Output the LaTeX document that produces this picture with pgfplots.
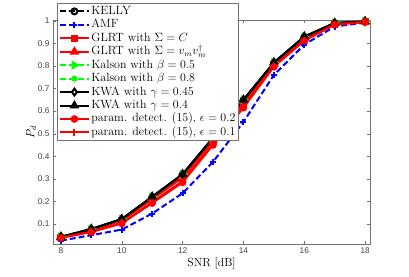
\documentclass[border=0pt]{standalone}
\usepackage{fontspec}
\usepackage{pgfplots}
\pgfplotsset{compat=1.18}
\newfontfamily\ticksfont{Liberation Sans}
\definecolor{mred}{rgb}{1,0,0}
\definecolor{mblue}{rgb}{0,0,1}
\definecolor{mgreen}{rgb}{0,1,0}
\begin{document}
\begin{tikzpicture}
\begin{axis}[
  scale only axis,
  width=317bp, height=224bp,
  xmin=7.74, xmax=18.16, ymin=0.011, ymax=1.004,
  xtick={8,10,...,18},
  ytick={0.1,0.2,0.3,0.4,0.5,0.6,0.7,0.8,0.9,1},
  yticklabels={0.1,0.2,0.3,0.4,0.5,0.6,0.7,0.8,0.9,1},
  /pgf/number format/assume math mode=true,
  tick label style={font=\ticksfont\fontsize{8.3}{10}\selectfont, black!75},
  tick align=inside,
  major tick length=3bp,
  axis line style={black!55},
  tick style={black!55},
  xlabel={SNR [dB]},
  ylabel={$P_d$},
  label style={font=\fontsize{11.8}{14}\selectfont},
  xlabel style={yshift=3bp},
  ylabel style={yshift=-5bp},
  legend cell align=left,
  legend style={at={(0.0126,1.076)}, anchor=north west, draw=black!55, line width=0.4pt,
    font=\fontsize{12}{13.6}\selectfont, row sep=0pt, inner sep=1.5pt,
    nodes={text height=8.5pt, text depth=2.6pt, inner sep=1.2pt}},
  legend image code/.code={\draw[mark repeat=2,mark phase=2,#1] plot coordinates {(0cm,0cm)(0.52cm,0cm)(1.04cm,0cm)};},
  every axis plot/.append style={line width=2pt, mark size=3pt},
]
% KELLY
\addplot[black, dashed, dash pattern=on 6pt off 3pt, mark=o, mark options={solid, fill=white}] coordinates {
(8,0.042)(9,0.076)(10,0.120)(11,0.218)(12,0.318)(13,0.480)(14,0.648)(15,0.813)(16,0.928)(17,0.990)(18,0.997)};
% AMF
\addplot[mblue, dashed, dash pattern=on 6pt off 3pt, mark=+, mark options={solid}] coordinates {
(8,0.026)(9,0.050)(10,0.075)(11,0.146)(12,0.236)(13,0.375)(14,0.552)(15,0.760)(16,0.895)(17,0.975)(18,0.993)};
% GLRT C
\addplot[mred, mark=square*, mark size=2.6pt, mark options={solid}] coordinates {
(8,0.040)(9,0.072)(10,0.115)(11,0.210)(12,0.305)(13,0.468)(14,0.635)(15,0.805)(16,0.920)(17,0.987)(18,0.996)};
% GLRT vv
\addplot[mred, mark=triangle*, mark size=3.6pt, mark options={solid}] coordinates {
(8,0.041)(9,0.074)(10,0.118)(11,0.214)(12,0.312)(13,0.474)(14,0.642)(15,0.809)(16,0.925)(17,0.989)(18,0.997)};
% Kalson 0.5
\addplot[mgreen, dashed, dash pattern=on 6pt off 3pt, mark=triangle, mark size=3.4pt, mark options={solid, rotate=-90}] coordinates {
(8,0.043)(9,0.078)(10,0.121)(11,0.220)(12,0.320)(13,0.482)(14,0.650)(15,0.815)(16,0.930)(17,0.991)(18,0.998)};
% Kalson 0.8
\addplot[mgreen, dashed, dash pattern=on 6pt off 3pt, mark=*, mark size=2pt, mark options={solid}] coordinates {
(8,0.043)(9,0.077)(10,0.121)(11,0.219)(12,0.319)(13,0.481)(14,0.649)(15,0.814)(16,0.929)(17,0.990)(18,0.997)};
% KWA 0.45
\addplot[black, mark=diamond*, mark size=3.4pt, mark options={solid, fill=white}] coordinates {
(8,0.042)(9,0.077)(10,0.121)(11,0.219)(12,0.319)(13,0.481)(14,0.649)(15,0.814)(16,0.929)(17,0.990)(18,0.997)};
% KWA 0.4
\addplot[black, mark=triangle*, mark size=3.6pt, mark options={solid}] coordinates {
(8,0.043)(9,0.078)(10,0.122)(11,0.221)(12,0.321)(13,0.483)(14,0.651)(15,0.816)(16,0.931)(17,0.991)(18,0.998)};
% param 0.2
\addplot[mred, mark=*, mark size=2.8pt, mark options={solid}] coordinates {
(8,0.038)(9,0.064)(10,0.102)(11,0.192)(12,0.284)(13,0.450)(14,0.615)(15,0.797)(16,0.912)(17,0.983)(18,0.995)};
% param 0.1
\addplot[mred, mark=+, mark size=3.4pt, mark options={solid}] coordinates {
(8,0.039)(9,0.066)(10,0.105)(11,0.197)(12,0.290)(13,0.455)(14,0.622)(15,0.800)(16,0.915)(17,0.985)(18,0.996)};
\legend{KELLY, AMF, GLRT with $\Sigma=C$, GLRT with $\Sigma=v_m v_m^\dagger$,
  Kalson with $\beta=0.5$, Kalson with $\beta=0.8$, KWA with $\gamma=0.45$, KWA with $\gamma=0.4$,
  {param. detect. (15), $\epsilon=0.2$}, {param. detect. (15), $\epsilon=0.1$}}
\end{axis}
\pgfresetboundingbox
\path[use as bounding box] ([shift={(-53bp,-33bp)}]current axis.south west) rectangle ([shift={(39bp,20bp)}]current axis.north east);
\end{tikzpicture}
\end{document}
